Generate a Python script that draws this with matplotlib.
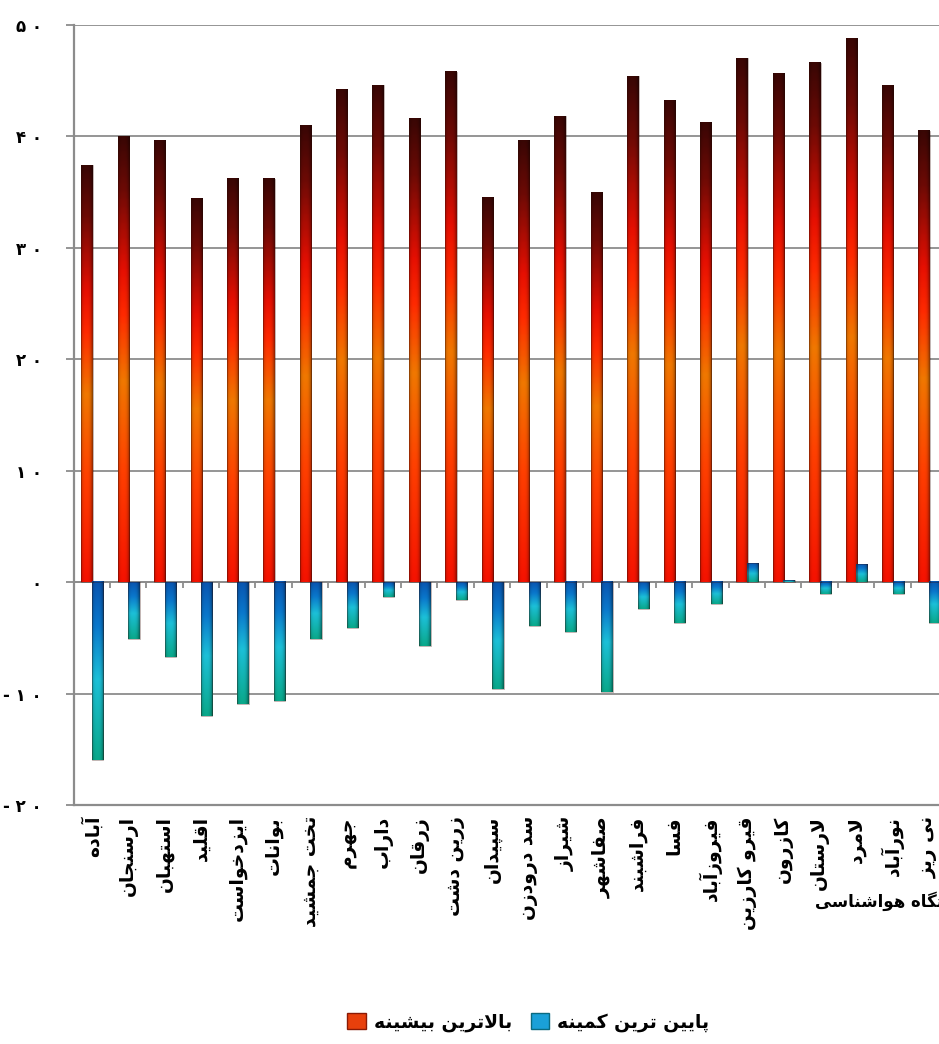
import numpy as np
import matplotlib
matplotlib.use('Agg')
import matplotlib.pyplot as plt
from matplotlib.patches import Patch, Rectangle
from matplotlib.colors import LinearSegmentedColormap

# ایستگاه های هواشناسی
stations = ['آباده', 'ارسنجان', 'استهبان', 'اقلید', 'ایزدخواست', 'بوانات',
            'تخت جمشید', 'جهرم', 'داراب', 'زرقان', 'زرین دشت', 'سپیدان',
            'سد درودزن', 'شیراز', 'صفاشهر', 'فراشبند', 'فسا', 'فیروزآباد',
            'قیرو کارزین', 'کازرون', 'لارستان', 'لامرد', 'نورآباد', 'نی ریز']
# بالاترین بیشینه
max_temp = [37.4, 40.0, 39.6, 34.4, 36.2, 36.2, 41.0, 44.2, 44.6, 41.6, 45.8, 34.5,
            39.6, 41.8, 35.0, 45.4, 43.2, 41.2, 47.0, 45.6, 46.6, 48.8, 44.6, 40.5]
# پایین ترین کمینه
min_temp = [-16.0, -5.1, -6.7, -12.0, -10.9, -10.7, -5.1, -4.1, -1.3, -5.7, -1.6, -9.6,
            -3.9, -4.5, -9.9, -2.4, -3.7, -2.0, 1.7, 0.15, -1.1, 1.6, -1.1, -3.7]
yticks = [-20, -10, 0, 10, 20, 30, 40, 50]
legend_labels = ['بالاترین بیشینه', 'پایین ترین کمینه']
xtitle = 'ایستگاه هواشناسی'

# شکل حروف فارسی (مجزا، پایانی، آغازی، میانی)
forms = {
    'ا': ('\uFE8D', '\uFE8E'), 'آ': ('\uFE81', '\uFE82'),
    'د': ('\uFEA9', '\uFEAA'), 'ذ': ('\uFEAB', '\uFEAC'),
    'ر': ('\uFEAD', '\uFEAE'), 'ز': ('\uFEAF', '\uFEB0'),
    'ژ': ('\uFB8A', '\uFB8B'), 'و': ('\uFEED', '\uFEEE'),
    'ب': ('\uFE8F', '\uFE90', '\uFE91', '\uFE92'),
    'پ': ('\uFB56', '\uFB57', '\uFB58', '\uFB59'),
    'ت': ('\uFE95', '\uFE96', '\uFE97', '\uFE98'),
    'ج': ('\uFE9D', '\uFE9E', '\uFE9F', '\uFEA0'),
    'چ': ('\uFB7A', '\uFB7B', '\uFB7C', '\uFB7D'),
    'خ': ('\uFEA5', '\uFEA6', '\uFEA7', '\uFEA8'),
    'س': ('\uFEB1', '\uFEB2', '\uFEB3', '\uFEB4'),
    'ش': ('\uFEB5', '\uFEB6', '\uFEB7', '\uFEB8'),
    'ص': ('\uFEB9', '\uFEBA', '\uFEBB', '\uFEBC'),
    'ف': ('\uFED1', '\uFED2', '\uFED3', '\uFED4'),
    'ق': ('\uFED5', '\uFED6', '\uFED7', '\uFED8'),
    'ک': ('\uFB8E', '\uFB8F', '\uFB90', '\uFB91'),
    'گ': ('\uFB92', '\uFB93', '\uFB94', '\uFB95'),
    'ل': ('\uFEDD', '\uFEDE', '\uFEDF', '\uFEE0'),
    'م': ('\uFEE1', '\uFEE2', '\uFEE3', '\uFEE4'),
    'ن': ('\uFEE5', '\uFEE6', '\uFEE7', '\uFEE8'),
    'ه': ('\uFEE9', '\uFEEA', '\uFEEB', '\uFEEC'),
    'ی': ('\uFBFC', '\uFBFD', '\uFBFE', '\uFBFF'),
}


def fa(text):
    # چسباندن حروف و راست به چپ کردن برای matplotlib
    out = []
    i = 0
    while i < len(text):
        c = text[i]
        if c not in forms:
            out.append(c)
            i += 1
            continue
        prev = text[i - 1] if i > 0 else ''
        before = prev in forms and len(forms[prev]) == 4
        nxt = text[i + 1] if i + 1 < len(text) else ''
        if c == 'ل' and nxt in ('ا', 'آ'):
            if nxt == 'ا':
                out.append('\uFEFC' if before else '\uFEFB')
            else:
                out.append('\uFEF6' if before else '\uFEF5')
            i += 2
            continue
        after = len(forms[c]) == 4 and nxt in forms
        f = forms[c]
        if before and after:
            out.append(f[3])
        elif before:
            out.append(f[1])
        elif after:
            out.append(f[2])
        else:
            out.append(f[0])
        i += 1
    return ''.join(reversed(out))


def fa_num(n):
    s = str(n).translate(str.maketrans('0123456789', '۰۱۲۳۴۵۶۷۸۹'))
    return ' '.join(s)


red_cmap = LinearSegmentedColormap.from_list('red', [
    (0.0, '#3a0604'), (0.12, '#6e0a05'), (0.3, '#e60f02'), (0.4, '#ff2a00'),
    (0.55, '#f07800'), (0.75, '#ff4000'), (1.0, '#f51200')])
blue_cmap = LinearSegmentedColormap.from_list('blue', [
    (0.0, '#0a55b0'), (0.25, '#0a78cc'), (0.55, '#1cc0d8'), (1.0, '#0aa88a')])


def grad_bar(ax, x0, w, y0, y1, cmap):
    lo, hi = min(y0, y1), max(y0, y1)
    t = np.linspace(0, 1, 200)
    u = np.linspace(0, 1, 30)
    col = cmap(t)[:, :3]
    shade = 1 - 0.35 * np.abs((u - 0.45) * 2) ** 3
    img = col[:, None, :] * shade[None, :, None]
    ax.imshow(np.clip(img, 0, 1), extent=(x0, x0 + w, lo, hi), origin='upper',
              aspect='auto', interpolation='bilinear', zorder=3)
    ax.add_patch(Rectangle((x0, lo), w, hi - lo, fill=False,
                           edgecolor=(0.2, 0.05, 0.02, 0.35), lw=0.6, zorder=4))


plt.rcParams['font.family'] = ['DejaVu Sans']
fig = plt.figure(figsize=(9.39, 10.44), dpi=100)
ax = fig.add_axes([73.5 / 939, 1 - 805 / 1044, (947 - 73.5) / 939, (805 - 25) / 1044])

x = np.arange(len(stations))
w = 0.31
for i in x:
    grad_bar(ax, i - 0.13 - w / 2, w, 0, max_temp[i], red_cmap)
    grad_bar(ax, i + 0.16 - w / 2, w, 0, min_temp[i], blue_cmap)

ax.set_xlim(-0.5, len(stations) - 0.5)
ax.set_ylim(-20, 50)
ax.set_yticks(yticks)
ax.set_yticklabels([fa_num(v) for v in yticks], fontsize=12, fontweight='bold')
ax.yaxis.grid(True, color='#8c8c8c', lw=1.3)
ax.set_axisbelow(True)
ax.tick_params(axis='y', length=6, color='#8c8c8c', width=1.3, pad=17)

ax.set_xticks(x)
ax.set_xticklabels([fa(s) for s in stations], rotation=90, fontsize=13.5, fontweight='bold',
                   va='top', ha='center')
ax.tick_params(axis='x', length=0, pad=8)

for s in ['top', 'right']:
    ax.spines[s].set_visible(False)
for s in ['left', 'bottom']:
    ax.spines[s].set_color('#8c8c8c')
    ax.spines[s].set_linewidth(1.6)

# محور صفر با تیک های کوچک
ax.axhline(0, color='#8c8c8c', lw=1.3, zorder=2)
ax.vlines(x + 0.5, -0.5, 0, color='#8c8c8c', lw=1.3, zorder=2)

# عنوان محور افقی (مثل نمونه، از لبه راست بیرون می زند)
fig.text(815 / 939, 1 - 901 / 1044, fa(xtitle), ha='left', va='center',
         fontsize=12, fontweight='bold')

handles = [Patch(facecolor='#e8400c', edgecolor='#8a1a05'),
           Patch(facecolor='#1aa0d8', edgecolor='#0a6a80')]
fig.legend(handles, [fa(s) for s in legend_labels], loc='center',
           bbox_to_anchor=(528 / 939, 1 - 1022 / 1044), ncol=2, frameon=False,
           prop={'size': 13.5, 'weight': 'bold'}, handlelength=1, handleheight=1,
           columnspacing=1.0, handletextpad=0.4)

fig.savefig('out.png', dpi=100)
